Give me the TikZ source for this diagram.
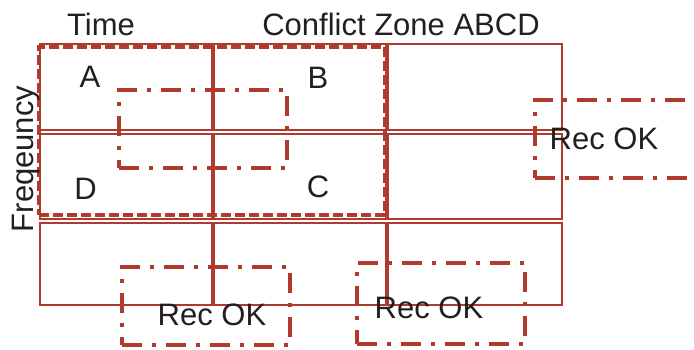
\documentclass[tikz,border=0pt]{standalone}
\usepackage{fontspec}
\setmainfont{Liberation Sans}
\usepackage{tikz}
\usetikzlibrary{positioning}
\definecolor{RustRed}{RGB}{176,58,46}
\definecolor{InkGray}{RGB}{35,31,32}

\begin{document}
\begin{tikzpicture}[
    x=1pt, y=-1pt,
    node distance=2.8pt and 0.8pt,
    gridcell/.style={rectangle, draw=RustRed, line width=1.2pt, inner sep=0pt, minimum width=172pt, minimum height=85pt},
    zonebox/.style={rectangle, draw=RustRed, line width=3.5pt, dash pattern=on 10pt off 4pt, inner sep=0pt, minimum width=346pt, minimum height=168pt},
    recbox/.style={rectangle, draw=RustRed, line width=4pt, dash pattern=on 20pt off 10pt on 4pt off 10pt, inner sep=0pt, minimum width=168pt, minimum height=78pt},
    lbl/.style={text=InkGray, font=\fontsize{31}{36}\selectfont, inner sep=0pt, anchor=base}
]
    \useasboundingbox (0,0) rectangle (694,349);
    \clip (0,0) rectangle (694,349);

    % grid of cells
    \node[gridcell, minimum height=86pt] (c11) at (126,87) {};
    \node[gridcell, minimum height=86pt, right=of c11] (c12) {};
    \node[gridcell, minimum height=86pt, minimum width=174pt, right=of c12] (c13) {};
    \node[gridcell, below=of c11] (c21) {};
    \node[gridcell, below=of c12] (c22) {};
    \node[gridcell, minimum width=174pt, below=of c13] (c23) {};
    \node[gridcell, minimum height=82pt, below=of c21] (c31) {};
    \node[gridcell, minimum height=82pt, below=of c22] (c32) {};
    \node[gridcell, minimum height=82pt, minimum width=174pt, below=of c23] (c33) {};

    % conflict zone and recovery boxes
    \node[zonebox] (zone) at (212,131) {};
    \node[recbox] (inner) at (203,128.5) {};
    \node[recbox] (recright) at (619,138.5) {};
    \node[recbox] (recleft) at (205.5,305.5) {};
    \node[recbox, minimum height=81pt] (recmid) at (440.5,303.5) {};

    % texts
    \node[lbl] (time) at (101,35) {Time};
    \node[lbl] (ztitle) at (401,35) {Conflict Zone ABCD};
    \node[lbl, rotate=90] (freq) at (34,159) {Freqeuncy};
    \node[lbl] (la) at (90,87) {A};
    \node[lbl] (lb) at (318,88) {B};
    \node[lbl] (lc) at (318,197) {C};
    \node[lbl] (ld) at (85.5,199) {D};
    \node[lbl] (okright) at (604,149) {Rec OK};
    \node[lbl] (okleft) at (212,325) {Rec OK};
    \node[lbl] (okmid) at (429,318) {Rec OK};
\end{tikzpicture}
\end{document}
